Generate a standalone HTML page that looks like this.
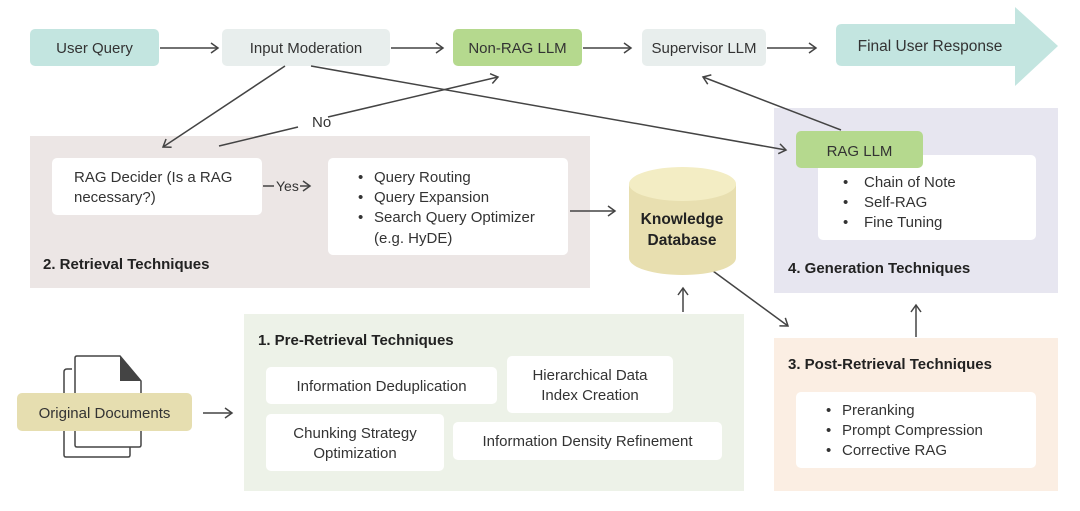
<!DOCTYPE html>
<html><head><meta charset="utf-8"><style>
html,body{margin:0;padding:0;background:#fff;}
svg{display:block;font-family:"Liberation Sans",sans-serif;}
</style></head><body>
<svg width="1080" height="511" viewBox="0 0 1080 511" xmlns="http://www.w3.org/2000/svg">
<defs>
<marker id="a" markerWidth="12" markerHeight="12" refX="9" refY="6" orient="auto" markerUnits="userSpaceOnUse">
<path d="M2,1 L9,6 L2,11" fill="none" stroke="#444" stroke-width="1.5"/>
</marker>
</defs>
<g font-size="15" fill="#333">
<rect x="30" y="136" width="560" height="152" fill="#ece6e5"/>
<rect x="774" y="108" width="284" height="185" fill="#e7e6f0"/>
<rect x="244" y="314" width="500" height="177" fill="#edf2e8"/>
<rect x="774" y="338" width="284" height="153" fill="#fbeee3"/>

<rect x="30" y="29" width="129" height="37" rx="5" fill="#c3e5e0"/>
<text x="94.5" y="53" text-anchor="middle">User Query</text>
<rect x="222" y="29" width="168" height="37" rx="5" fill="#e8eeed"/>
<text x="306" y="53" text-anchor="middle">Input Moderation</text>
<rect x="453" y="29" width="129" height="37" rx="5" fill="#b5d98e"/>
<text x="517.5" y="53" text-anchor="middle">Non-RAG LLM</text>
<rect x="642" y="29" width="124" height="37" rx="5" fill="#e8eeed"/>
<text x="704" y="53" text-anchor="middle">Supervisor LLM</text>
<path d="M842,24 H1015 V7 L1058,46 L1015,86 V66 H842 Q836,66 836,60 V30 Q836,24 842,24 Z" fill="#c3e5e0"/>
<text x="930" y="51" text-anchor="middle" font-size="15.5">Final User Response</text>

<g stroke="#444" stroke-width="1.5" fill="none">
<line x1="160" y1="48" x2="218" y2="48" marker-end="url(#a)"/>
<line x1="391" y1="48" x2="443" y2="48" marker-end="url(#a)"/>
<line x1="583" y1="48" x2="631" y2="48" marker-end="url(#a)"/>
<line x1="767" y1="48" x2="816" y2="48" marker-end="url(#a)"/>
<line x1="285" y1="66" x2="163" y2="147" marker-end="url(#a)"/>
<polyline points="219,146 298,127"/>
<line x1="328" y1="117" x2="498" y2="77" marker-end="url(#a)"/>
<line x1="311" y1="66" x2="786" y2="150" marker-end="url(#a)"/>
<line x1="841" y1="130" x2="703" y2="77" marker-end="url(#a)"/>
<line x1="570" y1="211" x2="615" y2="211" marker-end="url(#a)"/>
<line x1="713" y1="271" x2="788" y2="326" marker-end="url(#a)"/>
<line x1="683" y1="312" x2="683" y2="288" marker-end="url(#a)"/>
<line x1="916" y1="337" x2="916" y2="305" marker-end="url(#a)"/>
<line x1="203" y1="413" x2="232" y2="413" marker-end="url(#a)"/>
<line x1="263" y1="186" x2="274" y2="186"/>
<line x1="300" y1="186" x2="310" y2="186" marker-end="url(#a)"/>
</g>
<text x="312" y="127">No</text>
<text x="276" y="191" font-size="14">Yes</text>

<rect x="52" y="158" width="210" height="57" rx="5" fill="#fff"/>
<text x="74" y="182">RAG Decider (Is a RAG</text>
<text x="74" y="202">necessary?)</text>
<rect x="328" y="158" width="240" height="97" rx="5" fill="#fff"/>
<g><text x="358" y="182">•</text><text x="374" y="182">Query Routing</text>
<text x="358" y="202">•</text><text x="374" y="202">Query Expansion</text>
<text x="358" y="222">•</text><text x="374" y="222">Search Query Optimizer</text>
<text x="374" y="243">(e.g. HyDE)</text></g>
<text x="43" y="269" font-weight="bold" fill="#222">2. Retrieval Techniques</text>

<path d="M629,184 V258 A53.5,17 0 0 0 736,258 V184 Z" fill="#e8dfb0"/>
<ellipse cx="682.5" cy="184" rx="53.5" ry="17" fill="#f3edc4"/>
<text x="682" y="224" text-anchor="middle" font-weight="bold" fill="#222" font-size="15.5">Knowledge</text>
<text x="682" y="245" text-anchor="middle" font-weight="bold" fill="#222" font-size="15.5">Database</text>

<rect x="818" y="155" width="218" height="85" rx="5" fill="#fff"/>
<rect x="796" y="131" width="127" height="37" rx="5" fill="#b5d98e"/>
<text x="859.5" y="156" text-anchor="middle">RAG LLM</text>
<text x="843" y="187">•</text><text x="864" y="187">Chain of Note</text>
<text x="843" y="207">•</text><text x="864" y="207">Self-RAG</text>
<text x="843" y="227">•</text><text x="864" y="227">Fine Tuning</text>
<text x="788" y="273" font-weight="bold" fill="#222">4. Generation Techniques</text>

<text x="258" y="345" font-weight="bold" fill="#222">1. Pre-Retrieval Techniques</text>
<rect x="266" y="367" width="231" height="37" rx="5" fill="#fff"/>
<text x="381.5" y="391" text-anchor="middle">Information Deduplication</text>
<rect x="507" y="356" width="166" height="57" rx="5" fill="#fff"/>
<text x="590" y="380" text-anchor="middle">Hierarchical Data</text>
<text x="590" y="400" text-anchor="middle">Index Creation</text>
<rect x="266" y="414" width="178" height="57" rx="5" fill="#fff"/>
<text x="355" y="438" text-anchor="middle">Chunking Strategy</text>
<text x="355" y="458" text-anchor="middle">Optimization</text>
<rect x="453" y="422" width="269" height="38" rx="5" fill="#fff"/>
<text x="587.5" y="446" text-anchor="middle">Information Density Refinement</text>

<text x="788" y="369" font-weight="bold" fill="#222">3. Post-Retrieval Techniques</text>
<rect x="796" y="392" width="240" height="76" rx="5" fill="#fff"/>
<text x="826" y="415">•</text><text x="842" y="415">Preranking</text>
<text x="826" y="435">•</text><text x="842" y="435">Prompt Compression</text>
<text x="826" y="455">•</text><text x="842" y="455">Corrective RAG</text>

<g stroke="#444" stroke-width="1.5" fill="#fff">
<path d="M72,369 H67 Q64,369 64,372 V455 Q64,457 66,457 H128 Q130,457 130,455 V447" fill="none"/>
<path d="M75,358 Q75,356 77,356 H120 L141,381 V445 Q141,447 139,447 H77 Q75,447 75,445 Z"/>
</g>
<path d="M120,356 L141,381 H120 Z" fill="#444"/>
<rect x="17" y="393" width="175" height="38" rx="5" fill="#e6deb0"/>
<text x="104.5" y="418" text-anchor="middle">Original Documents</text>
</g>
</svg>
</body></html>
